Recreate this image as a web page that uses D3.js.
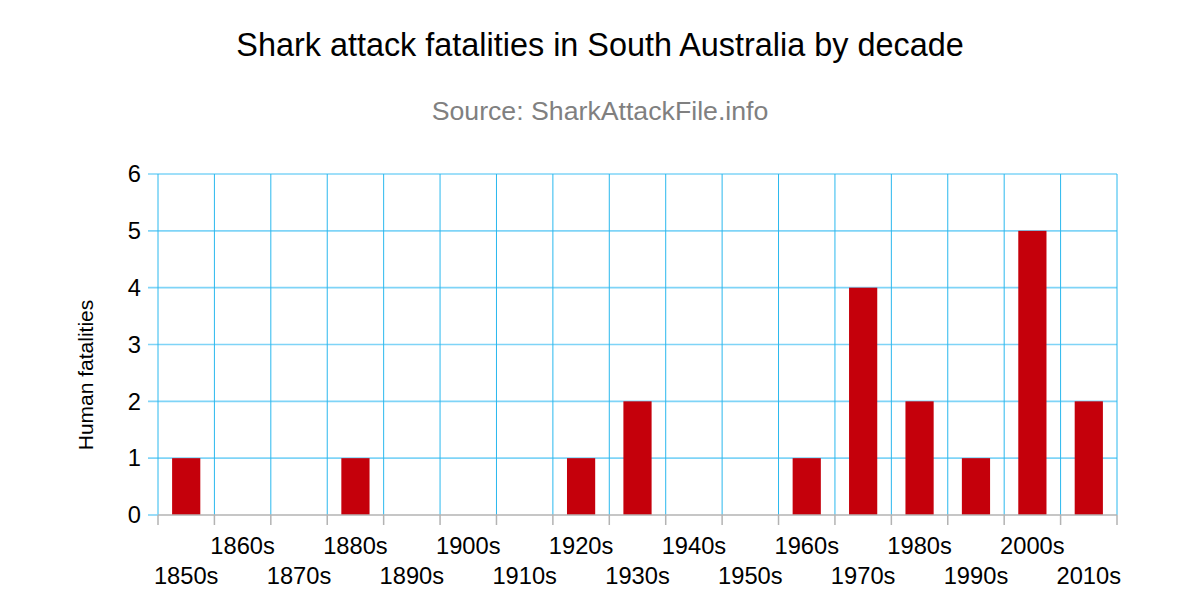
<!DOCTYPE html>
<html>
<head>
<meta charset="utf-8">
<script src="https://cdn.jsdelivr.net/npm/d3@7"></script>
<style>
    body { margin: 0; background: #fff; }
    text { font-family: "Liberation Sans", Arial, sans-serif; }
</style>
</head>
<body>
<svg id="chart" width="1200" height="600"></svg>
<script>
// decades along the x axis and fatalities per decade
let DECADES = ['1850s', '1860s', '1870s', '1880s', '1890s', '1900s', '1910s', '1920s', '1930s',
    '1940s', '1950s', '1960s', '1970s', '1980s', '1990s', '2000s', '2010s'];
let FATALITIES = [1, 0, 0, 1, 0, 0, 0, 1, 2, 0, 0, 1, 4, 2, 1, 5, 2];
let Y_TICKS = [0, 1, 2, 3, 4, 5, 6];

let BAR_FILL = '#c5000b';
let H_GRID = '#7fd4f7';
let V_GRID = '#2ab8ee';
let AXIS_GREY = '#b3b3b3';

let plot = { left: 158, right: 1117, top: 174, bottom: 515 };

let svg = d3.select('#chart');

// one band per decade, bars take the middle half of each band
let x = d3.scaleBand()
    .domain(DECADES)
    .range([plot.left, plot.right])
    .paddingInner(0.5)
    .paddingOuter(0.25);
let step = x.step();
let y = d3.scaleLinear().domain([0, 6]).range([plot.bottom, plot.top]);

// horizontal grid, sticking out a little to the left like a tick
svg.append('g').selectAll('line').data(Y_TICKS.filter(t => t > 0)).enter().append('line')
    .attr('x1', plot.left - 10)
    .attr('x2', plot.right)
    .attr('y1', d => y(d))
    .attr('y2', d => y(d))
    .attr('stroke', H_GRID)
    .attr('stroke-width', 1.6);

// vertical grid on the band boundaries
let boundaries = DECADES.map(d => x(d) - step * 0.25).concat([plot.right]);
svg.append('g').selectAll('line').data(boundaries).enter().append('line')
    .attr('x1', d => d)
    .attr('x2', d => d)
    .attr('y1', plot.top)
    .attr('y2', plot.bottom)
    .attr('stroke', V_GRID)
    .attr('stroke-width', 1);

// y tick at zero is light blue too
svg.append('line')
    .attr('x1', plot.left - 10).attr('x2', plot.left)
    .attr('y1', y(0)).attr('y2', y(0))
    .attr('stroke', H_GRID).attr('stroke-width', 1.6);

// bars
svg.append('g').selectAll('rect').data(FATALITIES).enter().append('rect')
    .attr('x', (d, i) => x(DECADES[i]))
    .attr('y', d => y(d))
    .attr('width', x.bandwidth())
    .attr('height', d => y(0) - y(d))
    .attr('fill', BAR_FILL);

// x axis line and ticks
svg.append('line')
    .attr('x1', plot.left).attr('x2', plot.right)
    .attr('y1', plot.bottom).attr('y2', plot.bottom)
    .attr('stroke', AXIS_GREY).attr('stroke-width', 1.5);
svg.append('g').selectAll('line').data(boundaries).enter().append('line')
    .attr('x1', d => d).attr('x2', d => d)
    .attr('y1', plot.bottom).attr('y2', plot.bottom + 10)
    .attr('stroke', AXIS_GREY).attr('stroke-width', 1.5);

// x labels, staggered on two rows
svg.append('g').selectAll('text').data(DECADES).enter().append('text')
    .attr('x', d => x(d) + x.bandwidth() / 2)
    .attr('y', (d, i) => i % 2 === 0 ? 584 : 554)
    .attr('text-anchor', 'middle')
    .attr('font-size', 23.7)
    .attr('fill', '#000')
    .text(d => d);

// y labels
svg.append('g').selectAll('text').data(Y_TICKS).enter().append('text')
    .attr('x', 141)
    .attr('y', d => y(d))
    .attr('dy', '0.35em')
    .attr('text-anchor', 'end')
    .attr('font-size', 23.7)
    .attr('fill', '#000')
    .text(d => d);

// axis title
svg.append('text')
    .attr('transform', 'translate(93,375) rotate(-90)')
    .attr('text-anchor', 'middle')
    .attr('font-size', 21)
    .text('Human fatalities');

// titles
svg.append('text')
    .attr('x', 600).attr('y', 56)
    .attr('text-anchor', 'middle')
    .attr('font-size', 32.4)
    .text('Shark attack fatalities in South Australia by decade');
svg.append('text')
    .attr('x', 600).attr('y', 120)
    .attr('text-anchor', 'middle')
    .attr('font-size', 26.7)
    .attr('fill', '#808080')
    .text('Source: SharkAttackFile.info');
</script>
</body>
</html>
